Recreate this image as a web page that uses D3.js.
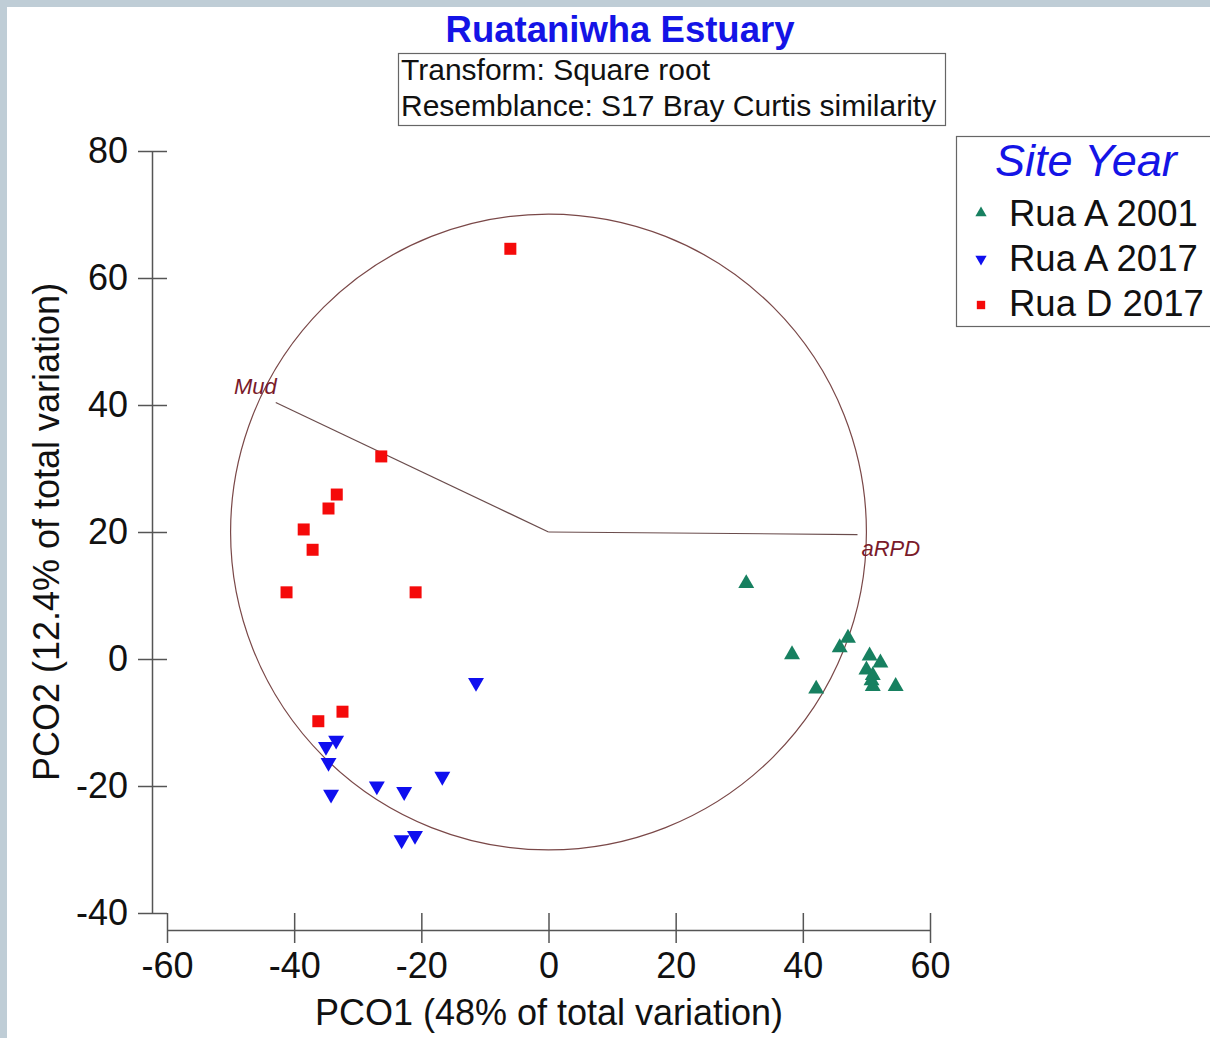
<!DOCTYPE html>
<html>
<head>
<meta charset="utf-8">
<script src="https://cdn.jsdelivr.net/npm/d3@7"></script>
<style>
body { margin: 0; background: #fff; }
text { font-family: "Liberation Sans", Arial, sans-serif; }
</style>
</head>
<body>
<div id="chart"></div>
<script>
var width = 1210,
height = 1038;

// tick values
var xTicks = [-60, -40, -20, 0, 20, 40, 60];
var yTicks = [-40, -20, 0, 20, 40, 60, 80];

// PCO1, PCO2 scores per group
var ruaA2001 = [[31.1, 11.9], [38.3, 0.7], [42.1, -4.7], [45.8, 1.8], [47.1, 3.3],
    [50.5, 0.5], [52.2, -0.6], [50.0, -1.7], [51.0, -2.6], [50.8, -3.4], [51.0, -4.3], [54.6, -4.3]];
var ruaA2017 = [[-11.4, -3.7], [-16.7, -18.5], [-22.7, -20.9], [-27.0, -20.0], [-33.4, -12.8],
    [-35.0, -13.8], [-34.6, -16.3], [-34.2, -21.3], [-23.1, -28.5], [-21.0, -27.8]];
var ruaD2017 = [[-6.0, 64.6], [-26.3, 31.9], [-33.3, 25.9], [-34.6, 23.7], [-38.5, 20.4],
    [-37.1, 17.2], [-41.2, 10.5], [-20.9, 10.5], [-36.2, -9.8], [-32.4, -8.3]];

var groupNames = ["Rua A 2001", "Rua A 2017", "Rua D 2017"];

// vector overlay (centre of correlation circle, radius, vector ends)
var circleCentre = [0, 20];
var circleRadius = 50;
var vectorNames = ["Mud", "aRPD"];
var vectorEnds = [[-42.9, 40.4], [48.6, 19.6]];

var svg = d3.select('#chart').append('svg')
    .attr('width', width)
    .attr('height', height);

// light frame at the top and the left
svg.append('rect').attr('width', width).attr('height', 7).attr('fill', '#bfcdd6');
svg.append('rect').attr('width', 7).attr('height', height).attr('fill', '#bfcdd6');

let scaleX = d3.scaleLinear().domain([-60, 60]).range([167, 930]);
let scaleY = d3.scaleLinear().domain([-40, 80]).range([913, 151]);

var axisColor = '#555';
// plain hyphen for negatives, like the original
var plain = d => String(d);

// y axis
var yAxis = svg.append('g').attr('transform', 'translate(152,0)')
    .call(d3.axisLeft(scaleY).tickValues(yTicks).tickFormat(plain)
        .tickSize(0).tickSizeOuter(0).tickPadding(24));
yAxis.selectAll('.tick line').attr('x1', -14).attr('x2', 15).attr('stroke', axisColor).attr('stroke-width', 1.5);
yAxis.select('.domain').attr('stroke', axisColor).attr('stroke-width', 1.5);
yAxis.selectAll('.tick text').attr('font-size', 36).attr('fill', '#111')
    .attr('font-family', '"Liberation Sans", Arial, sans-serif');

// x axis
var xAxis = svg.append('g').attr('transform', 'translate(0,930)')
    .call(d3.axisBottom(scaleX).tickValues(xTicks).tickFormat(plain)
        .tickSize(0).tickSizeOuter(0).tickPadding(22));
xAxis.selectAll('.tick line').attr('y1', -17).attr('y2', 13).attr('stroke', axisColor).attr('stroke-width', 1.5);
xAxis.select('.domain').attr('stroke', axisColor).attr('stroke-width', 1.5);
xAxis.selectAll('.tick text').attr('font-size', 36).attr('fill', '#111')
    .attr('font-family', '"Liberation Sans", Arial, sans-serif');

// axis titles
svg.append('text')
    .attr('x', 549).attr('y', 1025)
    .attr('text-anchor', 'middle')
    .attr('font-size', 36).attr('fill', '#111')
    .text('PCO1 (48% of total variation)');
svg.append('text')
    .attr('transform', 'translate(59,532) rotate(-90)')
    .attr('text-anchor', 'middle')
    .attr('font-size', 36).attr('fill', '#111')
    .text('PCO2 (12.4% of total variation)');

// title
svg.append('text')
    .attr('x', 620).attr('y', 42)
    .attr('text-anchor', 'middle')
    .attr('font-size', 36.5).attr('font-weight', 'bold').attr('fill', '#1414e6')
    .text('Ruataniwha Estuary');

// info box
svg.append('rect').attr('x', 398.5).attr('y', 53.5).attr('width', 547).attr('height', 72)
    .attr('fill', 'white').attr('stroke', '#666').attr('stroke-width', 1.2);
svg.append('text').attr('x', 401).attr('y', 80).attr('font-size', 30).attr('fill', '#111')
    .text('Transform: Square root');
svg.append('text').attr('x', 401).attr('y', 116).attr('font-size', 30).attr('fill', '#111')
    .text('Resemblance: S17 Bray Curtis similarity');

// correlation circle and vectors
var pxPerUnit = scaleX(1) - scaleX(0);
svg.append('circle')
    .attr('cx', scaleX(circleCentre[0])).attr('cy', scaleY(circleCentre[1]))
    .attr('r', circleRadius * pxPerUnit)
    .attr('fill', 'none').attr('stroke', '#7a4848').attr('stroke-width', 1.2);

svg.selectAll('.vec').data(vectorEnds).enter().append('line')
    .attr('class', 'vec')
    .attr('x1', scaleX(circleCentre[0])).attr('y1', scaleY(circleCentre[1]))
    .attr('x2', d => scaleX(d[0])).attr('y2', d => scaleY(d[1]))
    .attr('stroke', '#6a4c4c').attr('stroke-width', 1.2);

svg.selectAll('.vecLabel').data(vectorEnds).enter().append('text')
    .attr('class', 'vecLabel')
    .attr('x', (d, i) => i == 0 ? scaleX(d[0]) + 1 : scaleX(d[0]) + 4)
    .attr('y', (d, i) => i == 0 ? scaleY(d[1]) - 8 : scaleY(d[1]) + 21)
    .attr('text-anchor', (d, i) => i == 0 ? 'end' : 'start')
    .attr('font-size', 22).attr('font-style', 'italic').attr('fill', '#7a1a2a')
    .text((d, i) => vectorNames[i]);

// markers
var green = '#178060', blue = '#0f0fef', red = '#f50a0a';
var triUp = d3.symbol().type(d3.symbolTriangle).size(110);
var triDown = d3.symbol().type(d3.symbolTriangle).size(110);
var square = d3.symbol().type(d3.symbolSquare).size(144);

svg.selectAll('.gA01').data(ruaA2001).enter().append('path')
    .attr('class', 'gA01')
    .attr('transform', d => 'translate(' + scaleX(d[0]) + ',' + scaleY(d[1]) + ')')
    .attr('d', triUp).attr('fill', green);

svg.selectAll('.gA17').data(ruaA2017).enter().append('path')
    .attr('class', 'gA17')
    .attr('transform', d => 'translate(' + scaleX(d[0]) + ',' + scaleY(d[1]) + ') rotate(180)')
    .attr('d', triDown).attr('fill', blue);

svg.selectAll('.gD17').data(ruaD2017).enter().append('path')
    .attr('class', 'gD17')
    .attr('transform', d => 'translate(' + scaleX(d[0]) + ',' + scaleY(d[1]) + ')')
    .attr('d', square).attr('fill', red);

// legend
var legend = svg.append('g').attr('class', 'legend');
legend.append('rect').attr('x', 956.5).attr('y', 136.5).attr('width', 270).attr('height', 190)
    .attr('fill', 'white').attr('stroke', '#666').attr('stroke-width', 1.2);
legend.append('text').attr('x', 995).attr('y', 176)
    .attr('font-size', 45).attr('font-style', 'italic').attr('fill', '#1414e6')
    .text('Site Year');

var legendShapes = [
    d3.symbol().type(d3.symbolTriangle).size(55),
    d3.symbol().type(d3.symbolTriangle).size(55),
    d3.symbol().type(d3.symbolSquare).size(70)
];
var legendColors = [green, blue, red];
var legendRot = [0, 180, 0];

legend.selectAll('.lMark').data(groupNames).enter().append('path')
    .attr('class', 'lMark')
    .attr('transform', (d, i) => 'translate(981,' + (213 + 46 * i) + ') rotate(' + legendRot[i] + ')')
    .attr('d', (d, i) => legendShapes[i]())
    .attr('fill', (d, i) => legendColors[i]);

legend.selectAll('.lText').data(groupNames).enter().append('text')
    .attr('class', 'lText')
    .attr('x', 1009).attr('y', (d, i) => 226 + 45 * i)
    .attr('font-size', 36.5).attr('fill', '#111')
    .text(d => d);
</script>
</body>
</html>
